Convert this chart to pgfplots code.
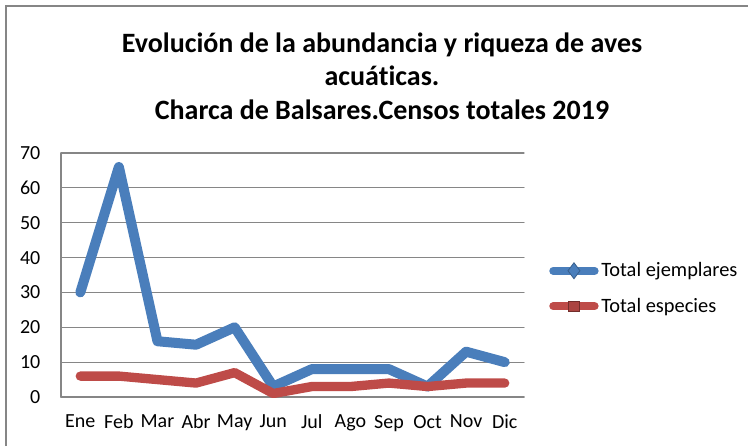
\documentclass[border=0pt]{standalone}
\usepackage{pgfplots}
\pgfplotsset{compat=1.18}
\usepackage{fontspec}
\setmainfont[Ligatures=NoCommon]{Carlito}
\definecolor{eblue}{HTML}{4A7EBB}
\definecolor{ered}{HTML}{BE4B48}
\definecolor{gridgray}{HTML}{868686}
\begin{document}
\begin{tikzpicture}
\useasboundingbox (0,0) rectangle (561pt,-334.5pt);
\draw[gridgray, line width=0.9pt] (4.5pt,-334.5pt) -- (4.5pt,-4.5pt) -- (561pt,-4.5pt);
\node[font=\fontsize{21}{25}\selectfont\bfseries, align=center, anchor=center] at (286.5pt,-57pt)
  {Evolución de la abundancia y riqueza de aves\\acuáticas.\\Charca de Balsares.Censos totales 2019};
\begin{axis}[
  at={(45.75pt,-297.75pt)}, anchor=south west,
  scale only axis, width=347.25pt, height=183pt,
  xmin=-0.5, xmax=11.5, ymin=0, ymax=70,
  axis x line*=bottom, axis y line*=left,
  axis line style={gridgray, line width=0.9pt, -},
  xtick={0,...,11},
  xticklabels={Ene,Feb,Mar,Abr,May,Jun,Jul,Ago,Sep,Oct,Nov,Dic},
  ytick={0,10,...,70},
  major tick length=0pt,
  ymajorgrids, grid style={gridgray, line width=0.9pt},
  tick label style={font=\fontsize{15}{17}\selectfont},
  /pgf/number format/assume math mode=true,
  yticklabel style={xshift=-12pt},
  xticklabel style={yshift=-10pt},
  legend style={at={(1.054,0.4447)}, anchor=west, draw=none, fill=none,
    font=\fontsize{15.3}{18}\selectfont, row sep=10.5pt, inner sep=0pt},
  legend cell align=left,
  legend style={/tikz/every even column/.append style={column sep=0pt}},
  line join=round, line cap=round,
]
\addplot[eblue, line width=7.5pt,
  legend image code/.code={
    \draw[eblue, line width=6pt, line cap=round] (0pt,0pt) -- (31pt,0pt);
    \draw[eblue!75!black, fill=eblue, line join=miter, line width=0.6pt, mark size=6pt] plot[mark=diamond*] coordinates {(15.5pt,0pt)};
  }] coordinates {
  (0,30) (1,66) (2,16) (3,15) (4,20) (5,3) (6,8) (7,8) (8,8) (9,3) (10,13) (11,10)};
\addlegendentry{Total ejemplares}
\addplot[ered, line width=7pt,
  legend image code/.code={
    \draw[ered, line width=6pt, line cap=round] (0pt,0pt) -- (31pt,0pt);
    \draw[ered!60!black, fill=ered!90!black, line join=miter, line width=0.6pt, mark size=4pt] plot[mark=square*] coordinates {(15.5pt,0pt)};
  }] coordinates {
  (0,6) (1,6) (2,5) (3,4) (4,7) (5,1) (6,3) (7,3) (8,4) (9,3) (10,4) (11,4)};
\addlegendentry{Total especies}
\end{axis}
\end{tikzpicture}
\end{document}
